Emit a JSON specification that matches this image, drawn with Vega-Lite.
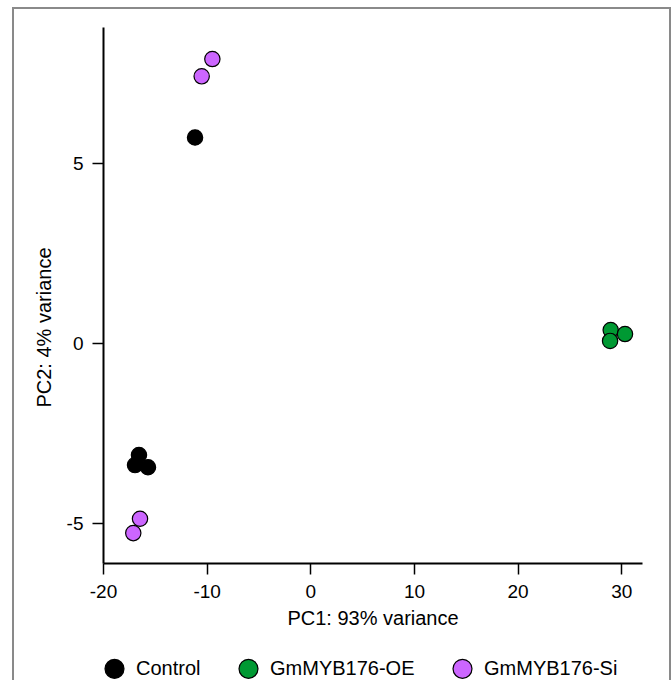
{
  "$schema": "https://vega.github.io/schema/vega-lite/v6.json",
  "width": 539,
  "height": 536,
  "autosize": {"type": "none"},
  "padding": {"left": 103, "top": 27, "right": 30, "bottom": 117},
  "background": "white",
  "config": {
    "view": {"stroke": null},
    "font": "Liberation Sans",
    "axis": {
      "grid": false,
      "domainColor": "black",
      "domainWidth": 2,
      "tickColor": "black",
      "tickWidth": 1.5,
      "tickSize": 11,
      "labelFontSize": 19,
      "labelColor": "black",
      "labelFont": "Liberation Sans",
      "labelFlush": false,
      "labelExpr": "replace(datum.label, '\u2212', '-')",
      "titleFont": "Liberation Sans",
      "titleFontSize": 20,
      "titleFontWeight": "normal",
      "titleColor": "black"
    },
    "legend": {
      "labelFont": "Liberation Sans",
      "labelFontSize": 20,
      "labelColor": "black"
    }
  },
  "data": {
    "values": [
      {"PC1": -11.12, "PC2": 5.72, "group": "Control"},
      {"PC1": -16.53, "PC2": -3.10, "group": "Control"},
      {"PC1": -16.91, "PC2": -3.38, "group": "Control"},
      {"PC1": -15.66, "PC2": -3.44, "group": "Control"},
      {"PC1": 28.98, "PC2": 0.37, "group": "GmMYB176-OE"},
      {"PC1": 30.36, "PC2": 0.26, "group": "GmMYB176-OE"},
      {"PC1": 28.92, "PC2": 0.07, "group": "GmMYB176-OE"},
      {"PC1": -9.45, "PC2": 7.90, "group": "GmMYB176-Si"},
      {"PC1": -10.48, "PC2": 7.42, "group": "GmMYB176-Si"},
      {"PC1": -16.43, "PC2": -4.87, "group": "GmMYB176-Si"},
      {"PC1": -17.08, "PC2": -5.27, "group": "GmMYB176-Si"}
    ]
  },
  "layer": [
    {
      "mark": {"type": "rect", "filled": false, "stroke": "#8a8a8a", "strokeWidth": 1.5, "clip": false},
      "encoding": {
        "x": {"datum": -28.68, "type": "quantitative"},
        "x2": {"datum": 34.70},
        "y": {"datum": 9.32, "type": "quantitative"},
        "y2": {"datum": -9.7}
      }
    },
    {
      "mark": {"type": "point", "filled": true, "shape": "circle", "size": 235, "stroke": "black", "strokeWidth": 1.2, "opacity": 1},
      "encoding": {
        "x": {
          "field": "PC1", "type": "quantitative",
          "scale": {"domain": [-20, 32], "nice": false, "zero": false},
          "axis": {"values": [-20, -10, 0, 10, 20, 30], "title": "PC1: 93% variance", "labelPadding": 8, "titlePadding": 7}
        },
        "y": {
          "field": "PC2", "type": "quantitative",
          "scale": {"domain": [-6.1, 8.79], "nice": false, "zero": false},
          "axis": {"values": [-5, 0, 5], "title": "PC2: 4% variance", "labelPadding": 9, "titlePadding": 12, "titleY": 300}
        },
        "color": {
          "field": "group", "type": "nominal",
          "scale": {"domain": ["Control", "GmMYB176-OE", "GmMYB176-Si"], "range": ["#000000", "#009933", "#CC66FF"]},
          "legend": {
            "title": null,
            "orient": "none",
            "direction": "horizontal",
            "legendX": 1,
            "legendY": 631,
            "padding": 0,
            "symbolType": "circle",
            "symbolSize": 360,
            "symbolStrokeColor": "black",
            "symbolStrokeWidth": 1.2,
            "symbolOpacity": 1,
            "labelOffset": 11,
            "columnPadding": 35
          }
        }
      }
    }
  ]
}
